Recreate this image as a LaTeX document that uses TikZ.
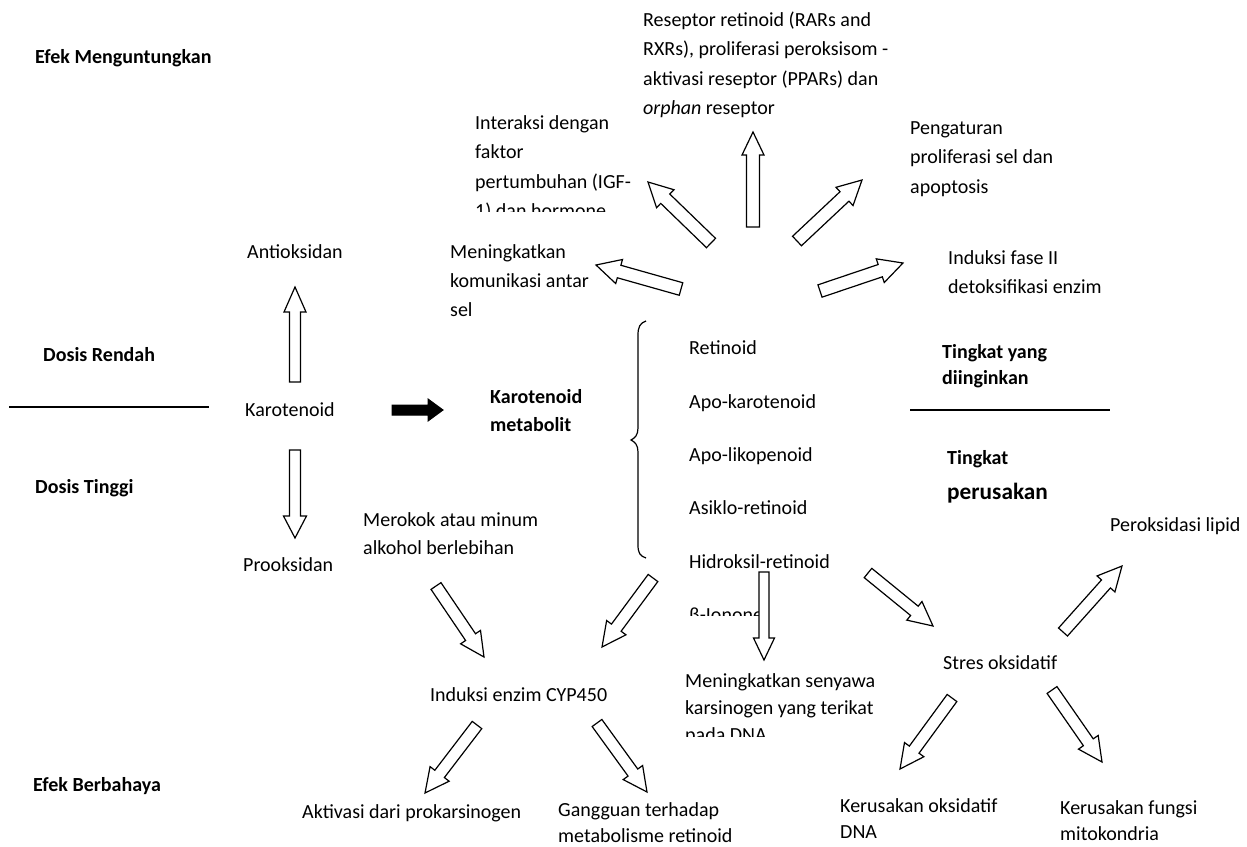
\documentclass[tikz,border=0pt]{standalone}
\usepackage{fontspec}
\setmainfont{Carlito}
\usetikzlibrary{calc}
\tikzset{
  lbl/.style={anchor=base west, align=left, inner sep=0pt, font=\fontsize{20}{29.5}\selectfont},
  blbl/.style={anchor=base west, align=left, inner sep=0pt, font=\fontsize{20}{26}\selectfont\bfseries},
  harrow/.style={draw=black, fill=white, line width=1.2pt, line join=miter},
  sarrow/.style={draw=black, fill=black, line width=1pt, line join=miter},
  sepline/.style={line width=1.3pt},
  bracestyle/.style={line width=1.2pt},
}
% #1 style, #2 tail, #3 tip, #4 shaft half width, #5 head half width, #6 head length
\newcommand\blockarrow[6]{%
  \path let \p1=(#2), \p2=(#3), \n1={atan2(\y2-\y1,\x2-\x1)}, \n2={veclen(\x2-\x1,\y2-\y1)} in
    \pgfextra{\xdef\baang{\n1}\xdef\balen{\n2}\xdef\bax{\x1}\xdef\bay{\y1}};
  \begin{scope}[shift={(\bax,\bay)}, rotate=\baang]
    \draw[#1] (0,-#4) -- ({\balen-#6},-#4) -- ({\balen-#6},-#5) -- (\balen,0)
      -- ({\balen-#6},#5) -- ({\balen-#6},#4) -- (0,#4) -- cycle;
  \end{scope}}
\begin{document}
\begin{tikzpicture}[x=1pt,y=-1pt]
\useasboundingbox (0,0) rectangle (1247,846);

% ---- side labels
\node[blbl] (efekM) at (35,63) {Efek Menguntungkan};
\node[blbl] (dosisR) at (43,361) {Dosis Rendah};
\node[blbl] (dosisT) at (35,493) {Dosis Tinggi};
\node[blbl] (efekB) at (33,791) {Efek Berbahaya};

% ---- separator lines
\coordinate (slA) at (9,407);
\coordinate (slB) at (209,407);
\draw[sepline] (slA) -- (slB);
\coordinate (srA) at (910,410);
\coordinate (srB) at (1110,410);
\draw[sepline] (srA) -- (srB);

% ---- left column
\node[lbl] (antioks) at (247,258) {Antioksidan};
\node[lbl] (karot) at (245,416) {Karotenoid};
\node[lbl] (prooks) at (243,571) {Prooksidan};

\node[blbl, font=\fontsize{20}{28}\selectfont\bfseries] (karmet) at (490,431) {Karotenoid\\metabolit};

% ---- top beneficial effects (base anchor = baseline of last line)
\node[lbl] (reseptor) at (643,114.5) {Reseptor retinoid (RARs and\\RXRs), proliferasi peroksisom -\\aktivasi reseptor (PPARs) dan\\\textit{orphan} reseptor};
\begin{scope}
  \clip (460,95) rectangle (640,211);
  \node[lbl] (interaksi) at (475,217.5) {Interaksi dengan\\faktor\\pertumbuhan (IGF-\\1) dan hormone};
\end{scope}
\node[lbl] (pengaturan) at (910,193) {Pengaturan\\proliferasi sel dan\\apoptosis};
\node[lbl, font=\fontsize{20}{29}\selectfont] (komunikasi) at (450,316) {Meningkatkan\\komunikasi antar\\sel};
\node[lbl, font=\fontsize{20}{29}\selectfont] (induksiF) at (948,293) {Induksi fase II\\detoksifikasi enzim};

% ---- metabolite list
\node[lbl] (retinoid) at (689,354) {Retinoid};
\node[lbl] (apokar) at (689,408) {Apo-karotenoid};
\node[lbl] (apolik) at (689,461) {Apo-likopenoid};
\node[lbl] (asiklo) at (689,514) {Asiklo-retinoid};
\node[lbl] (hidroks) at (689,568) {Hidroksil-retinoid};
\begin{scope}
  \clip (680,595) rectangle (820,615);
  \node[lbl] (ionone) at (689,621) {β-Ionone};
\end{scope}

\draw[bracestyle] (646,321) .. controls (640,323) and (638,327) .. (638,335) -- (638,428)
  .. controls (638,435) and (635,438) .. (631,440) .. controls (635,442) and (638,445) .. (638,452)
  -- (638,545) .. controls (638,553) and (640,556) .. (646,558);

% ---- level labels
\node[blbl] (tingkatY) at (942,384) {Tingkat yang\\diinginkan};
\node[blbl, font=\fontsize{20}{35}\selectfont\bfseries] (tingkatP) at (947,499) {Tingkat\\{\fontsize{23.3}{28}\selectfont perusakan}};

% ---- harmful effects
\node[lbl, font=\fontsize{20}{28}\selectfont] (merokok) at (363,554) {Merokok atau minum\\alkohol berlebihan};
\node[lbl] (peroks) at (1110,531) {Peroksidasi lipid};
\node[lbl] (stres) at (943,669) {Stres oksidatif};
\begin{scope}
  \clip (675,660) rectangle (930,736);
  \node[lbl, font=\fontsize{20}{27}\selectfont] (senyawa) at (685,741) {Meningkatkan senyawa\\karsinogen yang terikat\\pada DNA};
\end{scope}
\node[lbl] (cyp) at (430,701) {Induksi enzim CYP450};
\node[lbl] (aktivasi) at (302,818) {Aktivasi dari prokarsinogen};
\node[lbl, font=\fontsize{20}{26}\selectfont] (gangguan) at (558,842) {Gangguan terhadap\\metabolisme retinoid};
\node[lbl, font=\fontsize{20}{26}\selectfont] (keroks) at (840,838) {Kerusakan oksidatif\\DNA};
\node[lbl, font=\fontsize{20}{26}\selectfont] (kerfung) at (1060,840) {Kerusakan fungsi\\mitokondria};

% ---- arrow end points
\coordinate (antT) at (295,382);  \coordinate (antH) at (295,287);
\coordinate (proT) at (295,450);  \coordinate (proH) at (295,538);
\coordinate (metT) at (392,410);  \coordinate (metH) at (443,410);
\coordinate (resT) at (753,227);  \coordinate (resH) at (753,132);
\coordinate (igfT) at (711,243);  \coordinate (igfH) at (648,182);
\coordinate (komT) at (681,289);  \coordinate (komH) at (596,265);
\coordinate (pngT) at (797,241);  \coordinate (pngH) at (862,180);
\coordinate (indT) at (820,291);  \coordinate (indH) at (903,263);
\coordinate (merT) at (436,586);  \coordinate (merH) at (484,657);
\coordinate (brcT) at (653,578);  \coordinate (brcH) at (602,647);
\coordinate (senT) at (764,572);  \coordinate (senH) at (764,660);
\coordinate (strT) at (868,573);  \coordinate (strH) at (933,626);
\coordinate (perT) at (1063,632); \coordinate (perH) at (1122,566);
\coordinate (kdnT) at (952,698);  \coordinate (kdnH) at (900,769);
\coordinate (kfuT) at (1052,690); \coordinate (kfuH) at (1102,762);
\coordinate (aktT) at (477,725);  \coordinate (aktH) at (425,793);
\coordinate (ganT) at (597,723);  \coordinate (ganH) at (647,792);

\blockarrow{harrow}{antT}{antH}{5.5}{11}{25}
\blockarrow{harrow}{proT}{proH}{5.5}{11.5}{22}
\blockarrow{sarrow}{metT}{metH}{5}{11}{15}
\blockarrow{harrow}{resT}{resH}{6.5}{11}{23}
\blockarrow{harrow}{igfT}{igfH}{6.5}{12.5}{24}
\blockarrow{harrow}{komT}{komH}{6.5}{12.5}{24}
\blockarrow{harrow}{pngT}{pngH}{6.5}{12.5}{24}
\blockarrow{harrow}{indT}{indH}{6.5}{12.5}{24}
\blockarrow{harrow}{merT}{merH}{6}{12}{24}
\blockarrow{harrow}{brcT}{brcH}{6}{12}{24}
\blockarrow{harrow}{senT}{senH}{5}{10.5}{22}
\blockarrow{harrow}{strT}{strH}{6}{12}{24}
\blockarrow{harrow}{perT}{perH}{6}{12}{24}
\blockarrow{harrow}{kdnT}{kdnH}{6}{12}{24}
\blockarrow{harrow}{kfuT}{kfuH}{6}{12}{24}
\blockarrow{harrow}{aktT}{aktH}{6}{12}{24}
\blockarrow{harrow}{ganT}{ganH}{6}{12}{24}
\end{tikzpicture}
\end{document}
